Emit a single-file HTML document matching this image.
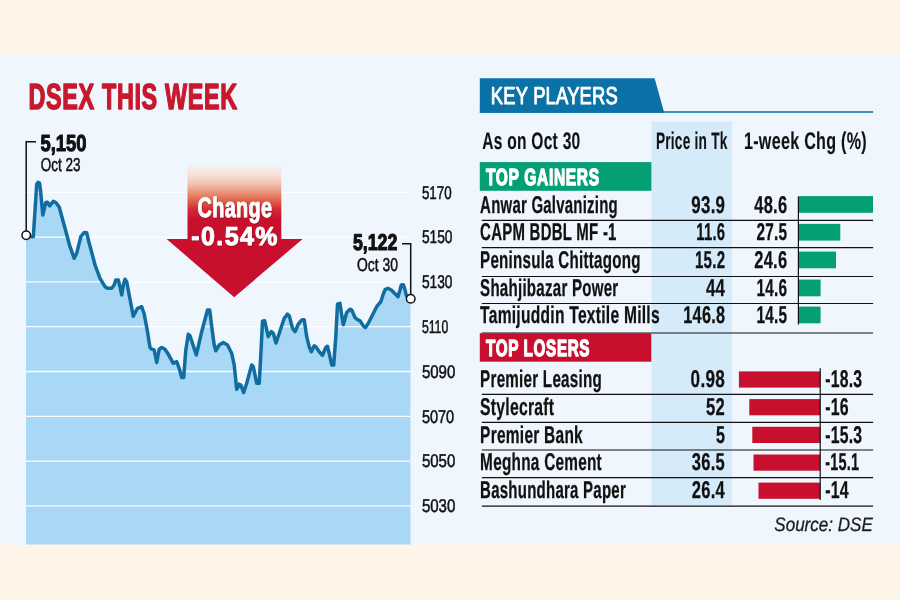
<!DOCTYPE html>
<html lang="en"><head><meta charset="utf-8"><title>DSEX This Week</title>
<style>
html,body{margin:0;padding:0;background:#fef4e8;}
body{width:900px;height:600px;overflow:hidden;font-family:"Liberation Sans", sans-serif;}
svg{display:block;}
</style></head><body>
<svg width="900" height="600" viewBox="0 0 900 600" text-rendering="geometricPrecision" font-family='"Liberation Sans", sans-serif' fill="#111111">
<defs>
<linearGradient id="ag" gradientUnits="userSpaceOnUse" x1="0" y1="163" x2="0" y2="297.5"><stop offset="0" stop-color="#f9e4dc" stop-opacity="0"/><stop offset="0.08" stop-color="#f8e3d9"/><stop offset="0.15" stop-color="#f3c6b4"/><stop offset="0.21" stop-color="#eb9a7f"/><stop offset="0.27" stop-color="#e16a50"/><stop offset="0.345" stop-color="#d22a35"/><stop offset="0.42" stop-color="#c8102e"/><stop offset="1" stop-color="#c8102e"/></linearGradient>
<filter id="ts" x="-10%" y="-20%" width="120%" height="150%"><feDropShadow dx="0.4" dy="0.7" stdDeviation="0.7" flood-color="#6d0718" flood-opacity="0.75"/></filter>
</defs>
<rect width="900" height="600" fill="#fef4e8"/>
<rect y="54.5" width="900" height="489.9" fill="#eff6fd"/>
<path d="M26,544.4 L26,237 L30,236.6 L33.3,236.7 L36.7,184.5 L38,182.3 L39.5,183 L40.5,190 L42.8,215 L45.8,202.5 L47.5,202.3 L49.7,205.8 L53.3,201.3 L55.8,202.5 L59.2,207 L65,228.3 L70,246.7 L74.2,258.3 L76.7,253.3 L80.8,236.7 L84.2,232.5 L86.7,232.8 L89.2,243.3 L93.3,258.3 L95,265 L100,278.3 L105,286.7 L107.5,288.3 L111.7,288.3 L114.2,285 L115.8,280 L118.3,280 L120,286.7 L121.7,295 L123.7,283.3 L125,279.2 L126.7,281.7 L129.2,295 L133.3,316.3 L137.5,308.3 L141.7,306.7 L144.2,314 L147.5,331.7 L150,347.5 L151.7,349.2 L154.2,350 L156.7,362.5 L159.2,349.2 L161.7,347.5 L165,349.2 L169.2,355.8 L173.3,363.3 L176.7,361.7 L179.2,368.3 L181.7,377.5 L183.7,377.5 L185.8,350 L188.3,334.2 L190,335.8 L196.3,355 L201.7,331.7 L207.5,310 L209.7,310 L211.7,326.7 L214.2,345 L215.8,350.8 L219.2,345 L223.3,342.5 L227.5,345 L231.7,353.3 L234.2,365 L236.7,389.2 L239.2,384.2 L240.8,385 L243.7,392.5 L246.7,383.3 L251.7,365 L253.3,366.7 L256.7,383.3 L259.2,383.3 L260.8,355 L262.5,321.3 L264.7,320.8 L268.2,336.7 L271.3,331.7 L273.3,333.3 L276,343 L280,331 L284.2,318.3 L287.5,314.2 L289.2,315.8 L292.5,328.3 L295,331.7 L298.3,324.2 L301.7,320 L304.2,319.7 L306.7,336.7 L309.2,346.7 L311.3,351.7 L314.2,345.8 L315.8,346.7 L319.2,351.7 L322.5,355.3 L325.8,347.5 L327.5,346.3 L329.2,353.3 L331.7,365 L333.7,365 L335.8,336.7 L337.5,304.2 L340,303.3 L341.7,315 L343.3,324.7 L346.7,312.5 L350,309.2 L351.7,310 L355,317.5 L357.5,319.7 L360,320.8 L363.3,325.8 L365.5,327.5 L368.3,323.3 L376.7,306.7 L380.8,301.7 L383.3,294 L385.3,289.3 L388,288.3 L391.3,290 L398,296.7 L400,290 L401.3,285 L403.3,284.7 L404.7,288.7 L406.3,295.3 L408,298 L410.4,298.7 L410.4,544.4 Z" fill="#a9d8f6"/>
<line x1="26" x2="410.5" y1="192.3" y2="192.3" stroke="#ffffff" stroke-opacity="0.95" stroke-width="1.3"/>
<line x1="26" x2="410.5" y1="237.1" y2="237.1" stroke="#ffffff" stroke-opacity="0.95" stroke-width="1.3"/>
<line x1="26" x2="410.5" y1="281.9" y2="281.9" stroke="#ffffff" stroke-opacity="0.95" stroke-width="1.3"/>
<line x1="26" x2="410.5" y1="326.7" y2="326.7" stroke="#ffffff" stroke-opacity="0.95" stroke-width="1.3"/>
<line x1="26" x2="410.5" y1="371.5" y2="371.5" stroke="#ffffff" stroke-opacity="0.95" stroke-width="1.3"/>
<line x1="26" x2="410.5" y1="416.3" y2="416.3" stroke="#ffffff" stroke-opacity="0.95" stroke-width="1.3"/>
<line x1="26" x2="410.5" y1="461.1" y2="461.1" stroke="#ffffff" stroke-opacity="0.95" stroke-width="1.3"/>
<line x1="26" x2="410.5" y1="505.9" y2="505.9" stroke="#ffffff" stroke-opacity="0.95" stroke-width="1.3"/>
<path d="M30,236.6 L33.3,236.7 L36.7,184.5 L38,182.3 L39.5,183 L40.5,190 L42.8,215 L45.8,202.5 L47.5,202.3 L49.7,205.8 L53.3,201.3 L55.8,202.5 L59.2,207 L65,228.3 L70,246.7 L74.2,258.3 L76.7,253.3 L80.8,236.7 L84.2,232.5 L86.7,232.8 L89.2,243.3 L93.3,258.3 L95,265 L100,278.3 L105,286.7 L107.5,288.3 L111.7,288.3 L114.2,285 L115.8,280 L118.3,280 L120,286.7 L121.7,295 L123.7,283.3 L125,279.2 L126.7,281.7 L129.2,295 L133.3,316.3 L137.5,308.3 L141.7,306.7 L144.2,314 L147.5,331.7 L150,347.5 L151.7,349.2 L154.2,350 L156.7,362.5 L159.2,349.2 L161.7,347.5 L165,349.2 L169.2,355.8 L173.3,363.3 L176.7,361.7 L179.2,368.3 L181.7,377.5 L183.7,377.5 L185.8,350 L188.3,334.2 L190,335.8 L196.3,355 L201.7,331.7 L207.5,310 L209.7,310 L211.7,326.7 L214.2,345 L215.8,350.8 L219.2,345 L223.3,342.5 L227.5,345 L231.7,353.3 L234.2,365 L236.7,389.2 L239.2,384.2 L240.8,385 L243.7,392.5 L246.7,383.3 L251.7,365 L253.3,366.7 L256.7,383.3 L259.2,383.3 L260.8,355 L262.5,321.3 L264.7,320.8 L268.2,336.7 L271.3,331.7 L273.3,333.3 L276,343 L280,331 L284.2,318.3 L287.5,314.2 L289.2,315.8 L292.5,328.3 L295,331.7 L298.3,324.2 L301.7,320 L304.2,319.7 L306.7,336.7 L309.2,346.7 L311.3,351.7 L314.2,345.8 L315.8,346.7 L319.2,351.7 L322.5,355.3 L325.8,347.5 L327.5,346.3 L329.2,353.3 L331.7,365 L333.7,365 L335.8,336.7 L337.5,304.2 L340,303.3 L341.7,315 L343.3,324.7 L346.7,312.5 L350,309.2 L351.7,310 L355,317.5 L357.5,319.7 L360,320.8 L363.3,325.8 L365.5,327.5 L368.3,323.3 L376.7,306.7 L380.8,301.7 L383.3,294 L385.3,289.3 L388,288.3 L391.3,290 L398,296.7 L400,290 L401.3,285 L403.3,284.7 L404.7,288.7 L406.3,295.3 L408,298" fill="none" stroke="#106d9f" stroke-width="3.5" stroke-linejoin="round" stroke-linecap="round"/>
<path d="M187.5,163 L281.3,163 L281.3,239 L302.6,239 L234.2,297.2 L166.6,239 L187.5,239 Z" fill="url(#ag)"/>
<g filter="url(#ts)">
<text x="197.5" y="217.3" font-size="28" font-weight="bold" textLength="75.0" lengthAdjust="spacingAndGlyphs" fill="#ffffff" stroke="#ffffff" stroke-width="0.9" stroke-linejoin="round" letter-spacing="0.6">Change</text>
<text x="191.3" y="245.4" font-size="26" font-weight="bold" textLength="87.6" lengthAdjust="spacingAndGlyphs" fill="#ffffff" stroke="#ffffff" stroke-width="0.9" stroke-linejoin="round" letter-spacing="1.5">-0.54%</text>
</g>
<path d="M36,141.8 L26.2,141.8 L26.2,231" fill="none" stroke="#111111" stroke-width="1.5"/>
<circle cx="26.2" cy="235.2" r="4.2" fill="#ffffff" stroke="#111111" stroke-width="1.5"/>
<path d="M402,243.7 L410.7,243.7 L410.7,294" fill="none" stroke="#111111" stroke-width="1.5"/>
<circle cx="410.7" cy="298.7" r="4.3" fill="#ffffff" stroke="#111111" stroke-width="1.5"/>
<text x="28.5" y="109.3" font-size="36.3" font-weight="bold" textLength="209.3" lengthAdjust="spacingAndGlyphs" fill="#c8182c" stroke="#c8182c" stroke-width="1.5" stroke-linejoin="round" letter-spacing="1">DSEX THIS WEEK</text>
<text x="40.5" y="151.0" font-size="23.1" font-weight="bold" textLength="46.0" lengthAdjust="spacingAndGlyphs" stroke="#111111" stroke-width="1.1" stroke-linejoin="round">5,150</text>
<text x="40.8" y="170.8" font-size="18.8" textLength="39.7" lengthAdjust="spacingAndGlyphs" stroke="#111111" stroke-width="0.5" stroke-linejoin="round">Oct 23</text>
<text x="352.9" y="250.2" font-size="22.9" font-weight="bold" textLength="44.4" lengthAdjust="spacingAndGlyphs" stroke="#111111" stroke-width="1.1" stroke-linejoin="round">5,122</text>
<text x="356.9" y="270.5" font-size="18.6" textLength="41.0" lengthAdjust="spacingAndGlyphs" stroke="#111111" stroke-width="0.5" stroke-linejoin="round">Oct 30</text>
<text x="421.9" y="198.5" font-size="18.4" textLength="29.7" lengthAdjust="spacingAndGlyphs" stroke="#111111" stroke-width="0.5" stroke-linejoin="round">5170</text>
<text x="421.9" y="243.3" font-size="18.4" textLength="30.6" lengthAdjust="spacingAndGlyphs" stroke="#111111" stroke-width="0.5" stroke-linejoin="round">5150</text>
<text x="421.9" y="288.1" font-size="18.4" textLength="30.6" lengthAdjust="spacingAndGlyphs" stroke="#111111" stroke-width="0.5" stroke-linejoin="round">5130</text>
<text x="421.9" y="332.9" font-size="18.4" textLength="26.3" lengthAdjust="spacingAndGlyphs" stroke="#111111" stroke-width="0.5" stroke-linejoin="round">5110</text>
<text x="421.9" y="377.7" font-size="18.4" textLength="33.4" lengthAdjust="spacingAndGlyphs" stroke="#111111" stroke-width="0.5" stroke-linejoin="round">5090</text>
<text x="421.9" y="422.5" font-size="18.4" textLength="32.3" lengthAdjust="spacingAndGlyphs" stroke="#111111" stroke-width="0.5" stroke-linejoin="round">5070</text>
<text x="421.9" y="467.3" font-size="18.4" textLength="33.4" lengthAdjust="spacingAndGlyphs" stroke="#111111" stroke-width="0.5" stroke-linejoin="round">5050</text>
<text x="421.9" y="512.1" font-size="18.4" textLength="33.4" lengthAdjust="spacingAndGlyphs" stroke="#111111" stroke-width="0.5" stroke-linejoin="round">5030</text>
<rect x="651.5" y="121.6" width="80.5" height="383.6" fill="#d5ebfa"/>
<path d="M479.8,78.3 L654.6,78.3 L664.2,112.8 L479.8,112.8 Z" fill="#0b72a8"/>
<line x1="479.8" x2="873.1" y1="112" y2="112" stroke="#0b72a8" stroke-width="1.6"/>
<text x="490.8" y="104.3" font-size="24.5" textLength="127.2" lengthAdjust="spacingAndGlyphs" fill="#ffffff" stroke="#ffffff" stroke-width="1.0" stroke-linejoin="round" letter-spacing="0.3">KEY PLAYERS</text>
<text x="482.2" y="149.1" font-size="24" font-weight="bold" textLength="98.3" lengthAdjust="spacingAndGlyphs" stroke="#111111" stroke-width="0.12" stroke-linejoin="round" letter-spacing="0.4">As on Oct 30</text>
<text x="655.9" y="149.0" font-size="24" font-weight="bold" textLength="71.7" lengthAdjust="spacingAndGlyphs" stroke="#111111" stroke-width="0.12" stroke-linejoin="round" letter-spacing="0.4">Price in Tk</text>
<text x="744.0" y="149.0" font-size="24" font-weight="bold" textLength="122.9" lengthAdjust="spacingAndGlyphs" stroke="#111111" stroke-width="0.12" stroke-linejoin="round" letter-spacing="0.4">1-week Chg (%)</text>
<rect x="479.8" y="162.1" width="171.6" height="28.7" fill="#059f76"/>
<text x="485.9" y="184.7" font-size="23.3" font-weight="bold" textLength="113.9" lengthAdjust="spacingAndGlyphs" fill="#ffffff" stroke="#ffffff" stroke-width="1.4" stroke-linejoin="round" letter-spacing="1.0">TOP GAINERS</text>
<text x="480.1" y="212.5" font-size="24.2" font-weight="bold" textLength="137.9" lengthAdjust="spacingAndGlyphs" stroke="#111111" stroke-width="0.28" stroke-linejoin="round" letter-spacing="0.4">Anwar Galvanizing</text>
<text x="691.3" y="212.5" font-size="24.2" font-weight="bold" textLength="34.0" lengthAdjust="spacingAndGlyphs" stroke="#111111" stroke-width="0.28" stroke-linejoin="round" letter-spacing="0.4">93.9</text>
<text x="754.2" y="212.5" font-size="24.2" font-weight="bold" textLength="33.2" lengthAdjust="spacingAndGlyphs" stroke="#111111" stroke-width="0.28" stroke-linejoin="round" letter-spacing="0.4">48.6</text>
<rect x="798.4" y="196.1" width="74.6" height="16.7" fill="#059f76"/>
<line x1="481.8" x2="873.1" y1="220.3" y2="220.3" stroke="#111111" stroke-width="1.2"/>
<text x="480.1" y="240.3" font-size="24.2" font-weight="bold" textLength="136.6" lengthAdjust="spacingAndGlyphs" stroke="#111111" stroke-width="0.28" stroke-linejoin="round" letter-spacing="0.4">CAPM BDBL MF -1</text>
<text x="696.3" y="240.3" font-size="24.2" font-weight="bold" textLength="29.0" lengthAdjust="spacingAndGlyphs" stroke="#111111" stroke-width="0.28" stroke-linejoin="round" letter-spacing="0.4">11.6</text>
<text x="756.5" y="240.3" font-size="24.2" font-weight="bold" textLength="30.9" lengthAdjust="spacingAndGlyphs" stroke="#111111" stroke-width="0.28" stroke-linejoin="round" letter-spacing="0.4">27.5</text>
<rect x="798.4" y="223.9" width="41.9" height="16.7" fill="#059f76"/>
<line x1="481.8" x2="873.1" y1="247.6" y2="247.6" stroke="#111111" stroke-width="1.2"/>
<text x="480.1" y="268.0" font-size="24.2" font-weight="bold" textLength="160.6" lengthAdjust="spacingAndGlyphs" stroke="#111111" stroke-width="0.28" stroke-linejoin="round" letter-spacing="0.4">Peninsula Chittagong</text>
<text x="694.9" y="268.0" font-size="24.2" font-weight="bold" textLength="30.4" lengthAdjust="spacingAndGlyphs" stroke="#111111" stroke-width="0.28" stroke-linejoin="round" letter-spacing="0.4">15.2</text>
<text x="754.2" y="268.0" font-size="24.2" font-weight="bold" textLength="33.2" lengthAdjust="spacingAndGlyphs" stroke="#111111" stroke-width="0.28" stroke-linejoin="round" letter-spacing="0.4">24.6</text>
<rect x="798.4" y="251.6" width="37.6" height="16.7" fill="#059f76"/>
<line x1="481.8" x2="873.1" y1="276.5" y2="276.5" stroke="#111111" stroke-width="1.2"/>
<text x="480.1" y="296.0" font-size="24.2" font-weight="bold" textLength="138.4" lengthAdjust="spacingAndGlyphs" stroke="#111111" stroke-width="0.28" stroke-linejoin="round" letter-spacing="0.4">Shahjibazar Power</text>
<text x="705.9" y="296.0" font-size="24.2" font-weight="bold" textLength="19.4" lengthAdjust="spacingAndGlyphs" stroke="#111111" stroke-width="0.28" stroke-linejoin="round" letter-spacing="0.4">44</text>
<text x="756.5" y="296.0" font-size="24.2" font-weight="bold" textLength="30.9" lengthAdjust="spacingAndGlyphs" stroke="#111111" stroke-width="0.28" stroke-linejoin="round" letter-spacing="0.4">14.6</text>
<rect x="798.4" y="279.6" width="22.2" height="16.7" fill="#059f76"/>
<line x1="481.8" x2="873.1" y1="303.5" y2="303.5" stroke="#111111" stroke-width="1.2"/>
<text x="480.1" y="323.0" font-size="24.2" font-weight="bold" textLength="179.8" lengthAdjust="spacingAndGlyphs" stroke="#111111" stroke-width="0.28" stroke-linejoin="round" letter-spacing="0.4">Tamijuddin Textile Mills</text>
<text x="683.3" y="323.0" font-size="24.2" font-weight="bold" textLength="42.0" lengthAdjust="spacingAndGlyphs" stroke="#111111" stroke-width="0.28" stroke-linejoin="round" letter-spacing="0.4">146.8</text>
<text x="756.5" y="323.0" font-size="24.2" font-weight="bold" textLength="30.9" lengthAdjust="spacingAndGlyphs" stroke="#111111" stroke-width="0.28" stroke-linejoin="round" letter-spacing="0.4">14.5</text>
<rect x="798.4" y="306.6" width="22.2" height="16.7" fill="#059f76"/>
<line x1="481.8" x2="873.1" y1="333.0" y2="333.0" stroke="#111111" stroke-width="1.2"/>
<line x1="798.4" x2="798.4" y1="196.5" y2="324.5" stroke="#111111" stroke-width="1.2"/>
<rect x="479.8" y="333.2" width="171.5" height="28.5" fill="#c8102e"/>
<text x="486.0" y="356.4" font-size="23.3" font-weight="bold" textLength="104.2" lengthAdjust="spacingAndGlyphs" fill="#ffffff" stroke="#ffffff" stroke-width="1.4" stroke-linejoin="round" letter-spacing="1.0">TOP LOSERS</text>
<text x="480.1" y="387.1" font-size="24.2" font-weight="bold" textLength="121.9" lengthAdjust="spacingAndGlyphs" stroke="#111111" stroke-width="0.28" stroke-linejoin="round" letter-spacing="0.4">Premier Leasing</text>
<text x="690.6" y="387.1" font-size="24.2" font-weight="bold" textLength="34.5" lengthAdjust="spacingAndGlyphs" stroke="#111111" stroke-width="0.28" stroke-linejoin="round" letter-spacing="0.4">0.98</text>
<text x="825.2" y="387.1" font-size="24.2" font-weight="bold" textLength="37.2" lengthAdjust="spacingAndGlyphs" stroke="#111111" stroke-width="0.28" stroke-linejoin="round" letter-spacing="0.4">-18.3</text>
<rect x="738.9" y="371.4" width="81.3" height="16.2" fill="#c8102e"/>
<line x1="481.8" x2="873.1" y1="394.4" y2="394.4" stroke="#111111" stroke-width="1.2"/>
<text x="480.1" y="414.8" font-size="24.2" font-weight="bold" textLength="74.2" lengthAdjust="spacingAndGlyphs" stroke="#111111" stroke-width="0.28" stroke-linejoin="round" letter-spacing="0.4">Stylecraft</text>
<text x="706.1" y="414.8" font-size="24.2" font-weight="bold" textLength="19.0" lengthAdjust="spacingAndGlyphs" stroke="#111111" stroke-width="0.28" stroke-linejoin="round" letter-spacing="0.4">52</text>
<text x="825.2" y="414.8" font-size="24.2" font-weight="bold" textLength="23.8" lengthAdjust="spacingAndGlyphs" stroke="#111111" stroke-width="0.28" stroke-linejoin="round" letter-spacing="0.4">-16</text>
<rect x="749.3" y="399.1" width="70.9" height="16.2" fill="#c8102e"/>
<line x1="481.8" x2="873.1" y1="422.3" y2="422.3" stroke="#111111" stroke-width="1.2"/>
<text x="480.1" y="442.5" font-size="24.2" font-weight="bold" textLength="102.9" lengthAdjust="spacingAndGlyphs" stroke="#111111" stroke-width="0.28" stroke-linejoin="round" letter-spacing="0.4">Premier Bank</text>
<text x="715.9" y="442.5" font-size="24.2" font-weight="bold" textLength="9.2" lengthAdjust="spacingAndGlyphs" stroke="#111111" stroke-width="0.28" stroke-linejoin="round" letter-spacing="0.4">5</text>
<text x="825.2" y="442.5" font-size="24.2" font-weight="bold" textLength="37.2" lengthAdjust="spacingAndGlyphs" stroke="#111111" stroke-width="0.28" stroke-linejoin="round" letter-spacing="0.4">-15.3</text>
<rect x="752.3" y="426.8" width="67.9" height="16.2" fill="#c8102e"/>
<line x1="481.8" x2="873.1" y1="450.0" y2="450.0" stroke="#111111" stroke-width="1.2"/>
<text x="480.1" y="470.2" font-size="24.2" font-weight="bold" textLength="121.9" lengthAdjust="spacingAndGlyphs" stroke="#111111" stroke-width="0.28" stroke-linejoin="round" letter-spacing="0.4">Meghna Cement</text>
<text x="691.8" y="470.2" font-size="24.2" font-weight="bold" textLength="33.3" lengthAdjust="spacingAndGlyphs" stroke="#111111" stroke-width="0.28" stroke-linejoin="round" letter-spacing="0.4">36.5</text>
<text x="825.2" y="470.2" font-size="24.2" font-weight="bold" textLength="34.1" lengthAdjust="spacingAndGlyphs" stroke="#111111" stroke-width="0.28" stroke-linejoin="round" letter-spacing="0.4">-15.1</text>
<rect x="753.5" y="454.5" width="66.7" height="16.2" fill="#c8102e"/>
<line x1="481.8" x2="873.1" y1="477.7" y2="477.7" stroke="#111111" stroke-width="1.2"/>
<text x="480.1" y="498.3" font-size="24.2" font-weight="bold" textLength="145.9" lengthAdjust="spacingAndGlyphs" stroke="#111111" stroke-width="0.28" stroke-linejoin="round" letter-spacing="0.4">Bashundhara Paper</text>
<text x="691.8" y="498.3" font-size="24.2" font-weight="bold" textLength="33.3" lengthAdjust="spacingAndGlyphs" stroke="#111111" stroke-width="0.28" stroke-linejoin="round" letter-spacing="0.4">26.4</text>
<text x="825.2" y="498.3" font-size="24.2" font-weight="bold" textLength="23.8" lengthAdjust="spacingAndGlyphs" stroke="#111111" stroke-width="0.28" stroke-linejoin="round" letter-spacing="0.4">-14</text>
<rect x="758.5" y="482.6" width="61.7" height="16.2" fill="#c8102e"/>
<line x1="481.8" x2="873.1" y1="506.2" y2="506.2" stroke="#111111" stroke-width="1.2"/>
<line x1="820.2" x2="820.2" y1="368.3" y2="500" stroke="#111111" stroke-width="1.2"/>
<text x="774.3" y="530.9" font-size="19.4" font-style="italic" textLength="98.5" lengthAdjust="spacingAndGlyphs" fill="#1c1c1c" stroke="#1c1c1c" stroke-width="0.3" stroke-linejoin="round">Source: DSE</text>
</svg>
</body></html>
